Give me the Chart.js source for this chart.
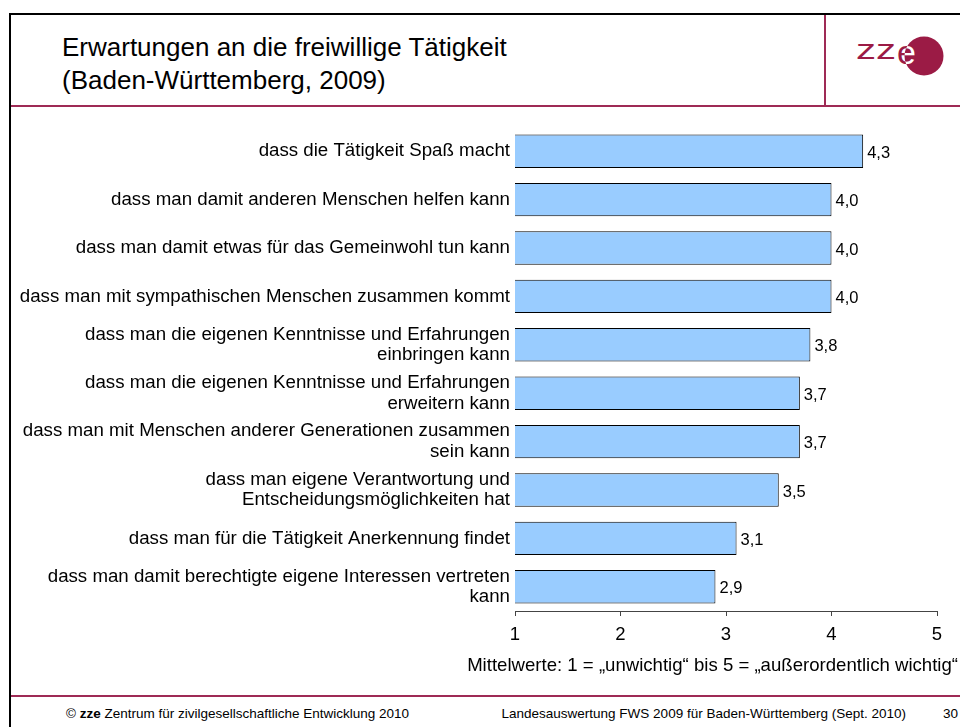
<!DOCTYPE html>
<html lang="de">
<head>
<meta charset="utf-8">
<title>Erwartungen an die freiwillige Tätigkeit</title>
<script src="https://cdn.jsdelivr.net/npm/chart.js@4"></script>
<style>
  html, body { margin: 0; padding: 0; background: #fff; }
  body { width: 960px; height: 727px; position: relative; overflow: hidden;
         font-family: "Liberation Sans", Arial, sans-serif; color: #000; }
  .frame { position: absolute; left: 9px; top: 13px; right: -10px; bottom: -10px;
           border-top: 2px solid #000; border-left: 2px solid #000; }
  .rule { position: absolute; background: #9e2a55; }
  .title { position: absolute; left: 62px; top: 31px; font-size: 26px; line-height: 33px; }
  .logo { position: absolute; left: 840px; top: 20px; }
  .caption { position: absolute; right: 2px; top: 654px; font-size: 18.6px; white-space: nowrap; }
  .foot { position: absolute; top: 706px; font-size: 13.5px; white-space: nowrap; }
  #chart { position: absolute; left: 0; top: 110px; }
</style>
</head>
<body>
<div class="frame"></div>
<div class="rule" style="left:11px; top:105px; width:949px; height:2px;"></div>
<div class="rule" style="left:824px; top:15px; width:2px; height:90px;"></div>
<div class="rule" style="left:11px; top:695px; width:949px; height:2px;"></div>

<div class="title">Erwartungen an die freiwillige Tätigkeit<br>(Baden-Württemberg, 2009)</div>

<svg class="logo" width="120" height="80" viewBox="0 0 120 80">
  <defs><clipPath id="dot"><circle cx="84" cy="36" r="19.5"/></clipPath></defs>
  <text x="16" y="39" font-size="27" textLength="40" lengthAdjust="spacingAndGlyphs"
        font-family="Liberation Sans, Arial, sans-serif" fill="#9b1b45">zz</text>
  <text x="57" y="44" font-size="34" font-family="Liberation Sans, Arial, sans-serif" fill="#9b1b45">e</text>
  <circle cx="84" cy="36" r="19.5" fill="#9b1b45"/>
  <text x="57" y="44" font-size="34" font-family="Liberation Sans, Arial, sans-serif" fill="#fff" clip-path="url(#dot)">e</text>
</svg>

<canvas id="chart" width="960" height="580"></canvas>

<div class="caption">Mittelwerte: 1 = „unwichtig“ bis 5 = „außerordentlich wichtig“</div>

<div class="foot" style="left:66px;">© <b>zze</b> Zentrum für zivilgesellschaftliche Entwicklung 2010</div>
<div class="foot" style="right:54px;">Landesauswertung FWS 2009 für Baden-Württemberg (Sept. 2010)</div>
<div class="foot" style="left:943px;">30</div>

<script>
const items = [
  'dass die Tätigkeit Spaß macht',
  'dass man damit anderen Menschen helfen kann',
  'dass man damit etwas für das Gemeinwohl tun kann',
  'dass man mit sympathischen Menschen zusammen kommt',
  ['dass man die eigenen Kenntnisse und Erfahrungen', 'einbringen kann'],
  ['dass man die eigenen Kenntnisse und Erfahrungen', 'erweitern kann'],
  ['dass man mit Menschen anderer Generationen zusammen', 'sein kann'],
  ['dass man eigene Verantwortung und', 'Entscheidungsmöglichkeiten hat'],
  'dass man für die Tätigkeit Anerkennung findet',
  ['dass man damit berechtigte eigene Interessen vertreten', 'kann']
];
const means = [4.3, 4.0, 4.0, 4.0, 3.8, 3.7, 3.7, 3.5, 3.1, 2.9];
const scaleTicks = [1, 2, 3, 4, 5];

const font = '"Liberation Sans", Arial, sans-serif';

// value labels to the right of each bar, German decimal comma
const valueLabels = {
  id: 'valueLabels',
  afterDatasetsDraw(chart) {
    const ctx = chart.ctx;
    const meta = chart.getDatasetMeta(0);
    ctx.save();
    ctx.font = '16.5px ' + font;
    ctx.fillStyle = '#000';
    ctx.textBaseline = 'middle';
    ctx.textAlign = 'left';
    meta.data.forEach((bar, i) => {
      ctx.fillText(means[i].toFixed(1).replace('.', ','), bar.x + 4, bar.y + 2);
    });
    ctx.restore();
  }
};

new Chart(document.getElementById('chart'), {
  type: 'bar',
  data: {
    labels: items,
    datasets: [{
      data: means,
      backgroundColor: '#99ccff',
      borderColor: '#000',
      borderWidth: 1,
      borderSkipped: false,
      barPercentage: 0.69,
      categoryPercentage: 1,
    }]
  },
  options: {
    indexAxis: 'y',
    responsive: false,
    animation: false,
    layout: { padding: { top: 17, right: 23, left: 0, bottom: 0 } },
    plugins: {
      legend: { display: false },
      tooltip: { enabled: false }
    },
    scales: {
      x: {
        min: scaleTicks[0],
        max: scaleTicks[scaleTicks.length - 1],
        afterFit: (s) => { s.height = 79; },
        afterBuildTicks: (s) => { s.ticks = scaleTicks.map(v => ({ value: v })); },
        border: { display: true, color: '#444', width: 1 },
        grid: { drawOnChartArea: false, drawTicks: true, tickLength: 5, color: '#444' },
        ticks: { color: '#000', padding: 8, font: { family: font, size: 18.5 } }
      },
      y: {
        afterFit: (s) => { s.width = 515; s.paddingTop = 0; s.paddingBottom = 0; },
        border: { display: false },
        grid: { display: false, drawTicks: false },
        ticks: { color: '#000', padding: 5, font: { family: font, size: 18.7, lineHeight: 1.1 } }
      }
    }
  },
  plugins: [valueLabels]
});
</script>
</body>
</html>
